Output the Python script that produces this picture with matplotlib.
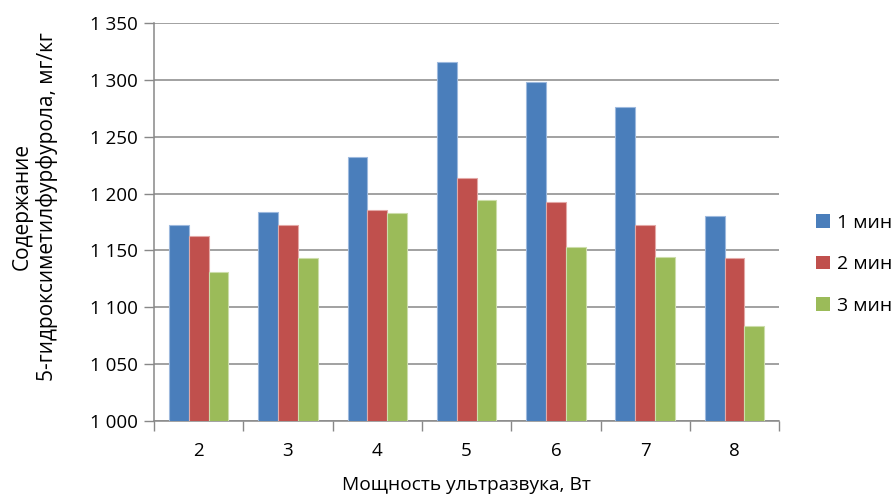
import numpy as np
import matplotlib.pyplot as plt
from matplotlib.ticker import FuncFormatter, MultipleLocator
from matplotlib.patches import Rectangle

plt.rcParams["font.family"] = ["Open Sans", "DejaVu Sans"]

# мощность ультразвука, Вт
power = ["2", "3", "4", "5", "6", "7", "8"]
# содержание ГМФ, мг/кг, при разной продолжительности обработки
hmf_1min = [1172, 1184, 1232, 1316, 1298, 1276, 1180]
hmf_2min = [1163, 1172, 1186, 1214, 1193, 1172, 1143]
hmf_3min = [1131, 1143, 1183, 1194, 1153, 1144, 1083]
series_names = ["1 мин", "2 мин", "3 мин"]

colors = ["#4A7EBB", "#C0504D", "#9BBB59"]
edges = ["#9DB9DE", "#E3A8A6", "#CCDDAA"]
grid_c = "#888888"

fig = plt.figure(figsize=(8.93, 4.95), dpi=100)
ax = fig.add_axes([0.1725, 0.150, 0.700, 0.803])

x = np.arange(len(power))
w = 1 / 4.5  # зазор 150 %
for i, vals in enumerate([hmf_1min, hmf_2min, hmf_3min]):
    ax.bar(x + (i - 1) * w, vals, width=w, color=colors[i],
           edgecolor=edges[i], linewidth=0.8, zorder=3)

ax.set_xlim(-0.5, len(power) - 0.5)
ax.set_ylim(1000, 1350)
ax.yaxis.set_major_locator(MultipleLocator(50))
ax.yaxis.set_major_formatter(FuncFormatter(lambda v, p: f"{v:,.0f}".replace(",", " ")))
ax.grid(axis="y", color=grid_c, linewidth=1.1, zorder=0)

ax.set_xticks(x)
ax.set_xticklabels(power)
ax.set_xticks(np.arange(len(power) + 1) - 0.5, minor=True)
ax.tick_params(axis="x", which="major", length=0, pad=15, labelsize=13.5)
ax.tick_params(axis="x", which="minor", length=7, color=grid_c, width=1)
ax.tick_params(axis="y", length=7, color=grid_c, width=1, pad=5, labelsize=13.5)

for s in ["top", "right"]:
    ax.spines[s].set_visible(False)
for s in ["left", "bottom"]:
    ax.spines[s].set_color(grid_c)
    ax.spines[s].set_linewidth(1.1)

ax.set_xlabel("Мощность ультразвука, Вт", fontsize=13.8, labelpad=12)
ax.set_ylabel("Содержание\n5-гидроксиметилфурфурола, мг/кг", fontsize=15,
              linespacing=1.15)
ax.yaxis.set_label_coords(-0.154, 0.54)

handles = [Rectangle((0, 0), 1, 1, fc=c) for c in colors]
fig.legend(handles, series_names, loc="center left",
           bbox_to_anchor=(0.914, 0.466), frameon=False, fontsize=14,
           handlelength=0.7, handleheight=0.7, handletextpad=0.35,
           labelspacing=1.2, borderpad=0, borderaxespad=0)

fig.savefig("out.png", dpi=100)
